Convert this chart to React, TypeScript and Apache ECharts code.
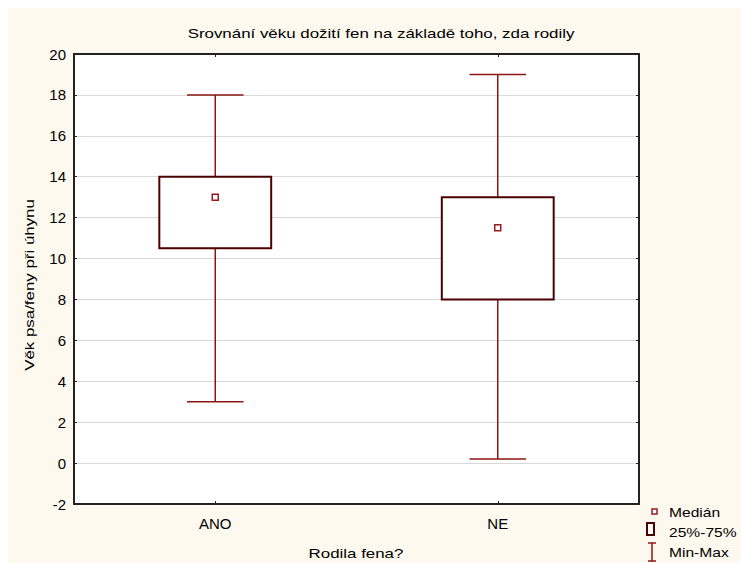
import React, { useEffect, useRef } from "react";
import * as echarts from "echarts";

const categories = ["ANO", "NE"];
const minValues = [3, 0.2];
const q1Values = [10.5, 8];
const medianValues = [13, 11.5];
const q3Values = [14, 13];
const maxValues = [18, 19];
const yMin = -2;
const yMax = 20;
const yInterval = 2;

const titleText = "Srovnání věku dožití fen na základě toho, zda rodily";
const xName = "Rodila fena?";
const yName = "Věk psa/feny při úhynu";
const legendLabels = ["Medián", "25%-75%", "Min-Max"];

const FONT = "'Liberation Sans', Arial, sans-serif";
const TEXT_COLOR = "#000";
const BOX_COLOR = "#4d0000";
const WHISKER_COLOR = "#8b1414";
const MEDIAN_COLOR = "#9b1b1b";
const STRETCH = 1.3;

export default function App() {
  const ref = useRef<HTMLDivElement>(null);
  useEffect(() => {
    if (!ref.current) return;
    const chart = echarts.init(ref.current, null, { renderer: "svg" });
    const data = categories.map((c, i) => [
      i,
      minValues[i],
      q1Values[i],
      medianValues[i],
      q3Values[i],
      maxValues[i],
    ]);
    const yAxisBase = {
      type: "value",
      min: yMin,
      max: yMax,
      interval: yInterval,
      axisLine: { show: true, onZero: false, lineStyle: { color: "#222", width: 2 } },
      axisTick: { show: true, inside: true, length: 3, lineStyle: { color: "#222", width: 1 } },
    };
    const xAxisBase = {
      type: "category",
      data: categories,
      boundaryGap: true,
      axisLine: { show: true, onZero: false, lineStyle: { color: "#222", width: 2 } },
      axisTick: { show: true, inside: true, length: 3, alignWithLabel: true, lineStyle: { color: "#222", width: 1 } },
    };
    const textStyleBase = { fontFamily: FONT, fontSize: 13, fill: TEXT_COLOR };
    chart.setOption({
      animation: false,
      backgroundColor: "#fdf9ef",
      grid: {
        left: 66,
        top: 46,
        right: 102,
        bottom: 59,
        show: true,
        backgroundColor: "#ffffff",
        borderWidth: 0,
      },
      xAxis: [
        {
          ...xAxisBase,
          position: "bottom",
          axisLabel: { fontFamily: FONT, fontSize: 15, color: TEXT_COLOR, margin: 12 },
        },
        {
          ...xAxisBase,
          position: "top",
          axisLabel: { show: false },
        },
      ],
      yAxis: [
        {
          ...yAxisBase,
          position: "left",
          axisLabel: { fontFamily: FONT, fontSize: 15, color: TEXT_COLOR, margin: 8 },
          splitLine: { show: true, lineStyle: { color: "#d9d9d9", width: 1 } },
        },
        {
          ...yAxisBase,
          position: "right",
          axisLabel: { show: false },
          splitLine: { show: false },
        },
      ],
      series: [
        {
          type: "custom",
          xAxisIndex: 0,
          yAxisIndex: 0,
          data,
          encode: { x: 0, y: [1, 2, 3, 4, 5] },
          renderItem: (params: any, api: any) => {
            const idx = api.value(0);
            const x = api.coord([idx, 0])[0];
            const band = api.size([1, 0])[0];
            const boxW = band * 0.396;
            const capW = band * 0.2;
            const yMinP = api.coord([idx, api.value(1)])[1];
            const yQ1 = api.coord([idx, api.value(2)])[1];
            const yMed = api.coord([idx, api.value(3)])[1];
            const yQ3 = api.coord([idx, api.value(4)])[1];
            const yMaxP = api.coord([idx, api.value(5)])[1];
            const wStyle = { stroke: WHISKER_COLOR, lineWidth: 1.5 };
            return {
              type: "group",
              children: [
                { type: "line", shape: { x1: x, y1: yMaxP, x2: x, y2: yMinP }, style: wStyle },
                { type: "line", shape: { x1: x - capW / 2, y1: yMaxP, x2: x + capW / 2, y2: yMaxP }, style: wStyle },
                { type: "line", shape: { x1: x - capW / 2, y1: yMinP, x2: x + capW / 2, y2: yMinP }, style: wStyle },
                {
                  type: "rect",
                  shape: { x: x - boxW / 2, y: yQ3, width: boxW, height: yQ1 - yQ3 },
                  style: { fill: "#ffffff", stroke: BOX_COLOR, lineWidth: 2 },
                },
                {
                  type: "rect",
                  shape: { x: x - 3, y: yMed - 3, width: 6, height: 6 },
                  style: { fill: "#ffffff", stroke: MEDIAN_COLOR, lineWidth: 1.5 },
                },
              ],
            };
          },
        },
      ],
      graphic: [
        {
          type: "text",
          x: 373,
          y: 25,
          scaleX: STRETCH,
          style: { ...textStyleBase, text: titleText, align: "center", verticalAlign: "middle" },
        },
        {
          type: "text",
          x: 348,
          y: 545,
          scaleX: STRETCH,
          style: { ...textStyleBase, text: xName, align: "center", verticalAlign: "middle" },
        },
        {
          type: "text",
          x: 21,
          y: 277,
          rotation: Math.PI / 2,
          scaleX: STRETCH,
          style: { ...textStyleBase, text: yName, align: "center", verticalAlign: "middle" },
        },
        {
          type: "rect",
          shape: { x: 644, y: 501, width: 5, height: 5 },
          style: { fill: "#fff", stroke: MEDIAN_COLOR, lineWidth: 1.5 },
        },
        {
          type: "rect",
          shape: { x: 639, y: 515, width: 7, height: 12 },
          style: { fill: "#fff", stroke: BOX_COLOR, lineWidth: 2 },
        },
        { type: "line", shape: { x1: 644, y1: 535, x2: 644, y2: 553 }, style: { stroke: WHISKER_COLOR, lineWidth: 1.5 } },
        { type: "line", shape: { x1: 640, y1: 535, x2: 648, y2: 535 }, style: { stroke: WHISKER_COLOR, lineWidth: 1.5 } },
        { type: "line", shape: { x1: 640, y1: 553, x2: 648, y2: 553 }, style: { stroke: WHISKER_COLOR, lineWidth: 1.5 } },
        ...legendLabels.map((t, i) => ({
          type: "text",
          x: 661,
          y: 504 + i * 20,
          scaleX: 1.2,
          style: { ...textStyleBase, text: t, verticalAlign: "middle", align: "left" },
        })),
      ],
    });
    return () => chart.dispose();
  }, []);
  return (
    <div
      ref={ref}
      style={{ position: "fixed", left: 8, top: 8, width: 733, height: 555 }}
    />
  );
}
